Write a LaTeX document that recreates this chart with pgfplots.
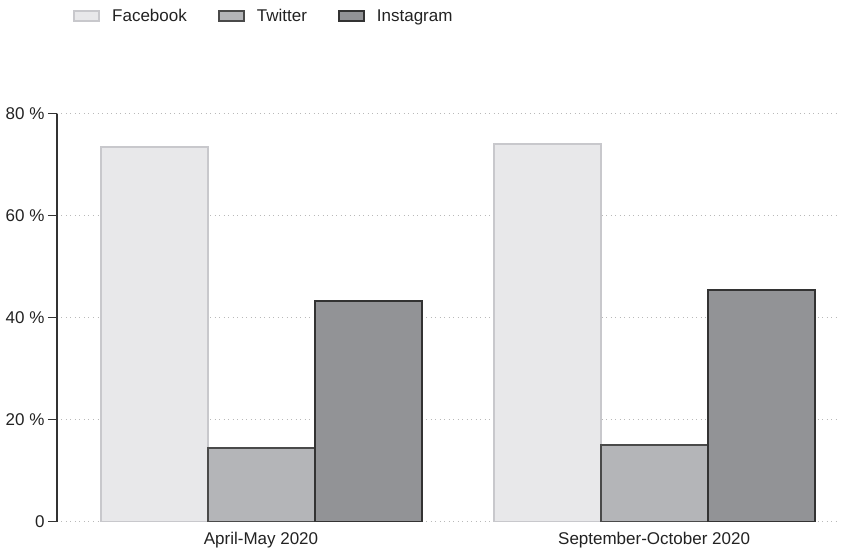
\documentclass[border=0pt]{standalone}
\usepackage{fontspec}
\setmainfont{Liberation Sans}
\usepackage{pgfplots}
\pgfplotsset{compat=1.18}

\definecolor{fbfill}{HTML}{E8E8EA}
\definecolor{fbdraw}{HTML}{C8C8CC}
\definecolor{twfill}{HTML}{B4B5B8}
\definecolor{twdraw}{HTML}{4A4A4A}
\definecolor{igfill}{HTML}{929396}
\definecolor{igdraw}{HTML}{333333}
\definecolor{txt}{HTML}{222222}

\begin{document}
\begin{tikzpicture}[x=1pt,y=1pt]
\begin{axis}[
    at={(0,0)}, anchor=south west,
    scale only axis, width=783pt, height=408pt,
    ybar=0pt, bar width=107pt,
    xmin=-0.519, xmax=1.473,
    ymin=0, ymax=80,
    axis y line*=left, axis x line*=bottom,
    x axis line style={draw=none},
    y axis line style={draw=igdraw, line width=1.6pt},
    xtick={0,1},
    xticklabels={April-May 2020, September-October 2020},
    x tick style={draw=none},
    xticklabel style={yshift=2pt},
    ytick={0,20,40,60,80},
    yticklabels={0, 20 \%, 40 \%, 60 \%, 80 \%},
    y tick style={draw=igdraw, line width=1pt},
    tick align=outside, major tick length=9pt,
    ymajorgrids, grid style={line width=1pt, gray!55, dash pattern=on 1pt off 3.5pt},
    tick label style={font=\fontsize{17}{19}\selectfont, text=txt},
    legend columns=3,
    legend style={at={(0.0166,1.267)}, anchor=north west, draw=none,
        font=\fontsize{17}{19}\selectfont, text=txt,
        /tikz/every odd column/.append style={column sep=10pt},
        /tikz/every even column/.append style={column sep=29pt}},
    legend image code/.code={\draw[#1] (0pt,-5pt) rectangle (25pt,5pt);},
]
\addplot[fill=fbfill, draw=fbdraw, line width=2pt] coordinates {(0,73.5) (1,74.1)};
\addplot[fill=twfill, draw=twdraw, line width=2pt] coordinates {(0,14.6) (1,15.1)};
\addplot[fill=igfill, draw=igdraw, line width=2pt] coordinates {(0,43.3) (1,45.5)};
\legend{Facebook, Twitter, Instagram}
\end{axis}
\pgfresetboundingbox
\path (-57,-26) rectangle (798,522);
\end{tikzpicture}
\end{document}
